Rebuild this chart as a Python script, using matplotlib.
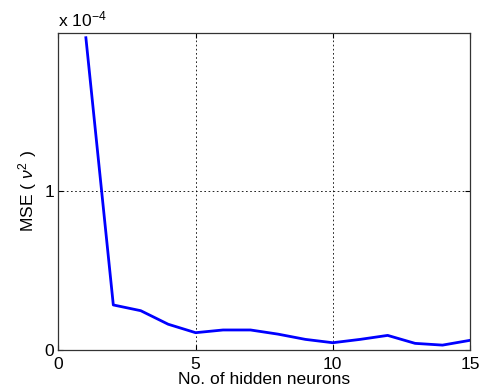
import matplotlib
matplotlib.use("Agg")
import matplotlib.pyplot as plt

# MSE against hidden layer size
neurons = [1, 2, 3, 4, 5, 6, 7, 8, 9, 10, 11, 12, 13, 14, 15]
mse = [1.96, 0.283, 0.247, 0.162, 0.109, 0.126, 0.126, 0.10, 0.067,
       0.046, 0.067, 0.092, 0.042, 0.031, 0.061]  # units of 1e-4
mse = [v * 1e-4 for v in mse]

xticks = [0, 5, 10, 15]
yticks = [0, 1e-4]
ytick_labels = ["0", "1"]

plt.rcParams['font.family'] = ['Liberation Sans', 'DejaVu Sans']
plt.rcParams['mathtext.fontset'] = 'custom'
plt.rcParams['mathtext.it'] = 'Liberation Sans:italic'
plt.rcParams['mathtext.rm'] = 'Liberation Sans'

fs = 12.6

fig = plt.figure(figsize=(4.83, 3.92), dpi=100)
ax = fig.add_axes([0.121, 0.107, 0.852, 0.809])

ax.plot(neurons, mse, color='#0000ff', linewidth=2.0)

ax.set_xlim(0, 15)
ax.set_ylim(0, 1.99e-4)
ax.set_xticks(xticks)
ax.set_yticks(yticks)
ax.set_yticklabels(ytick_labels)
ax.tick_params(direction='in', length=3.5, labelsize=fs, top=True, right=True,
               width=0.8)
ax.tick_params(axis='x', pad=5)
ax.tick_params(axis='y', pad=3)
ax.grid(True, linestyle=(0, (2, 3)), color='black', linewidth=0.6)

for s in ax.spines.values():
    s.set_linewidth(0.9)
    s.set_color('#333333')

ax.set_xlabel('No. of hidden neurons', fontsize=fs, labelpad=0)
ax.set_ylabel(r'MSE ( $\nu^2$ )', fontsize=fs, labelpad=4)
ax.text(0.0, 1.012, r'x 10$^{-4}$', transform=ax.transAxes, fontsize=fs,
        ha='left', va='bottom')

fig.savefig('out.png', dpi=100)
